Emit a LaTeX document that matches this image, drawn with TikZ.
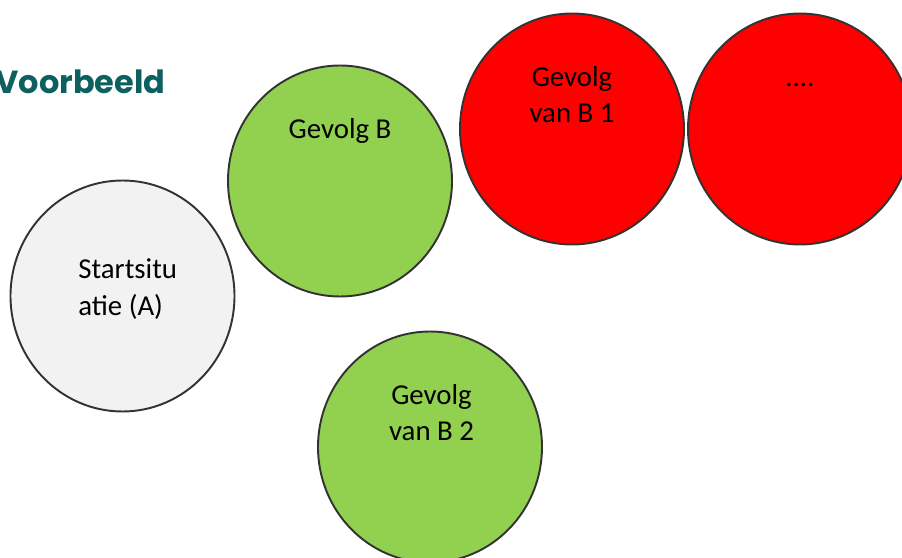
\documentclass[tikz,border=0pt]{standalone}
\usepackage{fontspec}
\setmainfont{Carlito}
\newfontfamily\titlefont{Poppins}
\usetikzlibrary{shapes.geometric}

\definecolor{titleteal}{HTML}{0E6060}
\definecolor{lightgreen}{HTML}{92D050}
\definecolor{startgrey}{HTML}{F2F2F2}
\definecolor{edgegrey}{HTML}{333333}

\begin{document}
\begin{tikzpicture}[
    bubble/.style = {ellipse, draw = edgegrey, line width = 1.1pt, inner sep = 0pt,
                     minimum width = 4.48cm, minimum height = 4.62cm},
    bubbletext/.style = {inner sep = 0pt, font = \fontsize{16.4}{20.8}\selectfont, align = center}
]

    % Frame
    \useasboundingbox (0,0) rectangle (18.04,11.14);
    \clip (0,0) rectangle (18.04,11.14);

    % Title
    \node [anchor = base west, inner sep = 0pt, text = titleteal,
           font = \titlefont\bfseries\fontsize{18.2}{22}\selectfont] (title) at (-0.1, 9.26) {Voorbeeld};

    % Bubbles
    \node [bubble, fill = startgrey] (A) at (2.45, 5.22) {};
    \node [bubble, fill = lightgreen] (B) at (6.80, 7.52) {};
    \node [bubble, fill = lightgreen] (B2) at (8.60, 2.20) {};
    \node [bubble, fill = red] (B1) at (11.44, 8.56) {};
    \node [bubble, fill = red] (more) at (16.00, 8.56) {};

    % Texts
    \node [bubbletext, anchor = north west, align = left] (Atext) at (1.56, 5.97) {Startsitu\\atie (A)};
    \node [bubbletext, anchor = north] (Btext) at ([yshift = -1.07cm] B.north) {Gevolg B};
    \node [bubbletext, anchor = north] (B1text) at ([yshift = -1.07cm] B1.north) {Gevolg\\van B 1};
    \node [bubbletext, anchor = north] (B2text) at ([xshift = 0.03cm, yshift = -1.07cm] B2.north) {Gevolg\\van B 2};
    \node [bubbletext, anchor = base] (moretext) at (16.00, 9.40) {....};

\end{tikzpicture}
\end{document}
